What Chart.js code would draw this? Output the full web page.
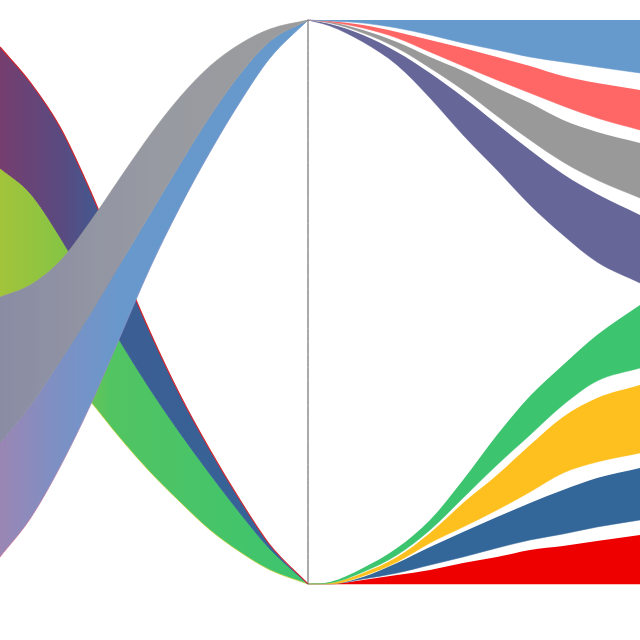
<!DOCTYPE html>
<html>
<head>
<meta charset="utf-8">
<script src="https://cdn.jsdelivr.net/npm/chart.js@4.4.1/dist/chart.umd.min.js"></script>
<style>
  html, body { margin: 0; padding: 0; background: #fff; }
  #wrap { width: 640px; height: 640px; }
</style>
</head>
<body>
<div id="wrap"><canvas id="flow"></canvas></div>
<script>
// positions are in chart units: x 0..640 left to right, y 0..640 top to bottom
var leftX  = [0, 30, 60, 90, 120, 150, 180, 210, 240, 270, 308];
var rightX = [308, 330, 363, 397, 430, 463, 497, 530, 563, 597, 640];

// node column
var nodeX = 308;
var nodeTop = 20;
var nodeBottom = 584;

// left side: flows into the bottom node
var redBlueTop        = [47, 82, 127, 190, 262, 332, 395, 450, 500, 545, 584];
var redBlueBottom     = [168, 193, 237, 289, 341, 389, 433, 474, 513, 549, 584];
var greenYellowBottom = [318, 340, 367, 401, 438, 472, 502, 530, 552, 570, 584];
// left side: flows into the top node
var grayTop         = [297, 285, 261, 222, 178, 135, 97, 66, 44, 29, 20];
var grayBottom      = [443, 406, 361, 314, 264, 214, 164, 116, 74, 41, 20];
var lightBlueBottom = [557, 519, 467, 406, 337, 268, 207, 152, 102, 58, 20];

// right side: out of the top node
var outBlueTop      = [20, 20, 20, 20, 20, 20, 20, 20, 20, 20, 20];
var outBlueBottom   = [20, 21, 23, 28, 35, 43, 50, 57, 62, 67, 73];
var outRedTop       = [20, 21, 25, 32, 40, 48, 57, 66, 76, 83, 90];
var outRedBottom    = [20, 22, 28, 38, 52, 66, 80, 93, 106, 118, 130];
var outGrayTop      = [20, 22, 30, 42, 57, 71, 88, 103, 120, 132, 143];
var outGrayBottom   = [20, 23, 33, 48, 68, 90, 116, 140, 162, 180, 198];
var outPurpleTop    = [20, 24, 35, 52, 73, 97, 124, 150, 174, 194, 215];
var outPurpleBottom = [20, 26, 42, 65, 98, 135, 170, 205, 235, 262, 283];

// right side: out of the bottom node
var outGreenTop      = [584, 582, 568, 548, 520, 480, 435, 396, 365, 335, 305];
var outGreenBottom   = [584, 583, 572, 555, 530, 498, 465, 435, 405, 381, 368];
var outYellowTop     = [584, 583, 573, 557, 533, 503, 475, 445, 417, 398, 385];
var outYellowBottom  = [584, 584, 576, 562, 543, 527, 510, 492, 473, 462, 453];
var outNavyTop       = [584, 584, 577, 563, 547, 532, 517, 503, 490, 478, 468];
var outNavyBottom    = [584, 584, 579, 573, 565, 557, 548, 540, 534, 527, 520];
var outDeepRedTop    = [584, 584, 580, 575, 570, 563, 557, 550, 546, 541, 535];
var outDeepRedBottom = [584, 584, 584, 584, 584, 584, 584, 584, 584, 584, 584];

function points(xs, ys) {
  return xs.map(function (x, i) { return { x: x, y: ys[i] }; });
}

// horizontal gradient, stops given in x units
function hGradient(stops) {
  return function (context) {
    var chart = context.chart;
    if (!chart.chartArea) return stops[0][1];
    var sx = chart.scales.x;
    var a = stops[0][0], b = stops[stops.length - 1][0];
    var g = chart.ctx.createLinearGradient(sx.getPixelForValue(a), 0, sx.getPixelForValue(b), 0);
    stops.forEach(function (s) { g.addColorStop((s[0] - a) / (b - a), s[1]); });
    return g;
  };
}

var fillA = hGradient([[0, "#763e6f"], [60, "#5a4a80"], [110, "#3c5d93"], [308, "#346699"]]);
var fillB = hGradient([[0, "#a2c43a"], [60, "#88c444"], [110, "#52c462"], [308, "#3cc46f"]]);
var fillC = hGradient([[0, "#8a8ca4"], [150, "#979aa2"], [308, "#9c9c9c"]]);
var fillD = hGradient([[0, "#9a86b4"], [60, "#7c90c4"], [120, "#6898cc"], [308, "#6699cc"]]);
var edgeD = hGradient([[0, "#d87090"], [120, "#8a90c8"], [308, "#6699cc"]]);

var datasets = [];

function edge(xs, ys, order, color, width) {
  datasets.push({
    data: points(xs, ys),
    order: order,
    fill: false,
    borderColor: color || "rgba(0,0,0,0)",
    borderWidth: width || 0
  });
}

function band(xs, ys, order, color, width, lineColor) {
  datasets.push({
    data: points(xs, ys),
    order: order,
    fill: "-1",
    backgroundColor: color,
    borderColor: lineColor || color,
    borderWidth: width || 0
  });
}

// left bands, drawn below
edge(leftX, redBlueTop, 3, "#d4262e", 1.2);
band(leftX, redBlueBottom, 3, fillA, 1);
band(leftX, greenYellowBottom, 3, fillB, 0.8, "#c8d43c");
// left bands, drawn above
edge(leftX, grayTop, 2, "#9a9a9a", 0.6);
band(leftX, grayBottom, 2, fillC, 1);
band(leftX, lightBlueBottom, 2, fillD, 0.8, edgeD);

// right bands
var rightBands = [
  [outBlueTop, outBlueBottom, "#6699cc"],
  [outRedTop, outRedBottom, "#ff6666"],
  [outGrayTop, outGrayBottom, "#999999"],
  [outPurpleTop, outPurpleBottom, "#666699"],
  [outGreenTop, outGreenBottom, "#3cc46f"],
  [outYellowTop, outYellowBottom, "#fdc01e"],
  [outNavyTop, outNavyBottom, "#336699"],
  [outDeepRedTop, outDeepRedBottom, "#ee0000"]
];
rightBands.forEach(function (b) {
  edge(rightX, b[0], 1);
  band(rightX, b[1], 1, b[2], 0.5);
});

// connector between the two nodes
datasets.push({
  data: [{ x: nodeX, y: nodeTop }, { x: nodeX, y: nodeBottom }],
  order: 0,
  fill: false,
  borderColor: "#555555",
  borderWidth: 1
});

new Chart(document.getElementById("flow"), {
  type: "line",
  data: { datasets: datasets },
  options: {
    responsive: true,
    maintainAspectRatio: false,
    animation: false,
    layout: { padding: 0 },
    elements: {
      point: { radius: 0, hoverRadius: 0 },
      line: { cubicInterpolationMode: "monotone" }
    },
    scales: {
      x: { type: "linear", min: 0, max: 640, display: false },
      y: { type: "linear", min: 0, max: 640, reverse: true, display: false }
    },
    plugins: {
      legend: { display: false },
      tooltip: { enabled: false }
    }
  }
});
</script>
</body>
</html>
